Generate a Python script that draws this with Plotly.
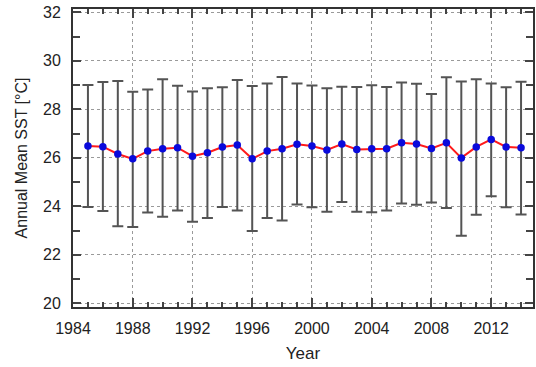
import plotly.graph_objects as go

years = list(range(1985, 2015))
mean_sst = [26.49, 26.46, 26.16, 25.96, 26.28, 26.38, 26.42, 26.07, 26.21, 26.45,
            26.53, 25.96, 26.28, 26.38, 26.56, 26.49, 26.33, 26.57, 26.35, 26.38,
            26.38, 26.62, 26.57, 26.39, 26.62, 26.00, 26.45, 26.76, 26.45, 26.42]
upper_sst = [29.01, 29.13, 29.17, 28.73, 28.82, 29.24, 28.97, 28.74, 28.87, 28.91,
             29.21, 28.96, 29.07, 29.34, 29.07, 28.99, 28.87, 28.93, 28.92, 29.00,
             28.92, 29.11, 29.06, 28.63, 29.33, 29.15, 29.24, 29.07, 28.91, 29.14]
lower_sst = [23.97, 23.81, 23.18, 23.15, 23.75, 23.57, 23.83, 23.37, 23.52, 23.97,
             23.83, 22.98, 23.52, 23.42, 24.08, 23.96, 23.78, 24.18, 23.78, 23.76,
             23.83, 24.12, 24.07, 24.16, 23.93, 22.79, 23.65, 24.42, 23.96, 23.67]

x_ticks = [1984, 1988, 1992, 1996, 2000, 2004, 2008, 2012]
y_ticks = [20, 22, 24, 26, 28, 30, 32]

err_plus = [u - m for u, m in zip(upper_sst, mean_sst)]
err_minus = [m - l for m, l in zip(mean_sst, lower_sst)]

fig = go.Figure()
fig.add_trace(go.Scatter(
    x=years, y=mean_sst, mode="lines+markers",
    line=dict(color="#ff1a1a", width=2),
    marker=dict(color="#0a0adc", size=7.5),
    error_y=dict(type="data", symmetric=False, array=err_plus, arrayminus=err_minus,
                 color="#545454", thickness=2, width=5.5),
    showlegend=False,
))

font = "Liberation Sans, Arial, Helvetica, sans-serif"
axis_common = dict(
    showline=True, linecolor="#333333", linewidth=2, mirror="ticks",
    ticks="inside", tickcolor="#444444", tickwidth=1.5,
    showgrid=True, gridcolor="#9a9a9a", griddash="dot", gridwidth=1,
    zeroline=False,
    tickfont=dict(family=font, size=16, color="#222222"),
)

fig.update_layout(
    width=536, height=367,
    margin=dict(l=73, r=1, t=9, b=60),
    paper_bgcolor="white", plot_bgcolor="white",
    font=dict(family=font, color="#222222"),
    xaxis=dict(
        range=[1984, 2014.8], tickvals=x_ticks, ticklen=9, ticklabelstandoff=6,
        minor=dict(dtick=1, tick0=1984, ticks="inside", ticklen=5, tickcolor="#444444", showgrid=False),
        title=dict(text="Year", font=dict(family=font, size=17, color="#222222"), standoff=11),
        **axis_common,
    ),
    yaxis=dict(
        range=[19.85, 32.14], tickvals=y_ticks, ticklen=8, ticklabelstandoff=7,
        minor=dict(dtick=1, tick0=20, ticks="inside", ticklen=7, tickcolor="#444444", showgrid=False),
        title=dict(text="Annual Mean SST [°C]", font=dict(family=font, size=16, color="#222222"), standoff=11),
        **axis_common,
    ),
)

# Remove the browser's default 8px body margin so the figure sits at the page origin.
fig.write_html("out.html", config={"displayModeBar": False},
               post_script="document.body.style.margin='0px';")
